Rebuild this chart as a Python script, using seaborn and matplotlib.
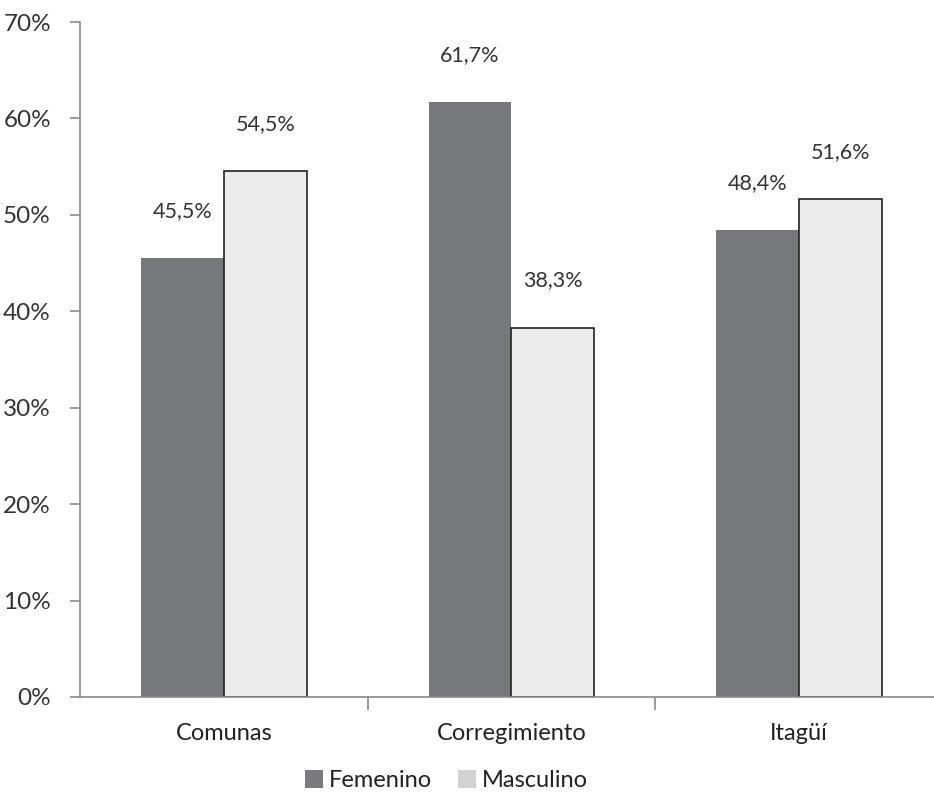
import matplotlib
matplotlib.use("Agg")
import matplotlib.pyplot as plt
import seaborn as sns
import pandas as pd
from matplotlib.patches import Patch
from matplotlib.ticker import FixedLocator, PercentFormatter

categories = ["Comunas", "Corregimiento", "Itagüí"]
femenino = [45.5, 61.7, 48.4]
masculino = [54.5, 38.3, 51.6]
series = ["Femenino", "Masculino"]
y_ticks = [0, 10, 20, 30, 40, 50, 60, 70]

df = pd.DataFrame({
    "cat": categories * 2,
    "sexo": [series[0]] * 3 + [series[1]] * 3,
    "val": femenino + masculino,
})

sns.set_style("white")
plt.rcParams["font.family"] = ["Lato", "DejaVu Sans"]

fig = plt.figure(figsize=(9.34, 7.95), dpi=100)
ax = fig.add_axes([0.0857, 0.1233, 0.9143, 0.849])

col_f = "#77787c"
col_m = "#ececec"
sns.barplot(data=df, x="cat", y="val", hue="sexo", order=categories,
            hue_order=series, palette=[col_f, col_m], width=0.576,
            saturation=1, ax=ax, legend=False)

for i, p in enumerate(ax.patches[:6]):
    if i >= 3:
        p.set_edgecolor("#222222")
        p.set_linewidth(1.2)
    else:
        p.set_edgecolor(col_f)
        p.set_linewidth(0)

for p in ax.patches[:6]:
    h = p.get_height()
    ax.text(p.get_x() + p.get_width() / 2, h + 4.9,
            f"{h:.1f}%".replace(".", ","), ha="center", va="center",
            fontsize=15.5, color="#333333")

ax.set_ylim(0, 70)
ax.set_xlim(-0.5, 2.469)
ax.yaxis.set_major_locator(FixedLocator(y_ticks))
ax.yaxis.set_major_formatter(PercentFormatter(decimals=0))
ax.set_xlabel("")
ax.set_ylabel("")

for s in ["top", "right"]:
    ax.spines[s].set_visible(False)
for s in ["left", "bottom"]:
    ax.spines[s].set_color("#8a8a8a")
    ax.spines[s].set_linewidth(1.2)

ax.tick_params(axis="y", which="major", length=7, width=1.2, color="#8a8a8a",
               labelsize=17.5, labelcolor="#333333", left=True, pad=14)
ax.tick_params(axis="x", which="major", length=0, labelsize=17,
               labelcolor="#222222", pad=19)
ax.xaxis.set_minor_locator(FixedLocator([0.5, 1.5]))
ax.tick_params(axis="x", which="minor", length=9, width=1.2, color="#8a8a8a",
               bottom=True, direction="out")

handles = [Patch(facecolor="#7a7a7c", edgecolor="none", label=series[0]),
           Patch(facecolor="#d2d2d2", edgecolor="none", label=series[1])]
fig.legend(handles=handles, loc="center", bbox_to_anchor=(0.478, 0.018),
           ncol=2, frameon=False, fontsize=17, handlelength=0.75,
           handleheight=0.75, handletextpad=0.25, columnspacing=1.1,
           labelcolor="#222222")

fig.savefig("out.png", dpi=100)
